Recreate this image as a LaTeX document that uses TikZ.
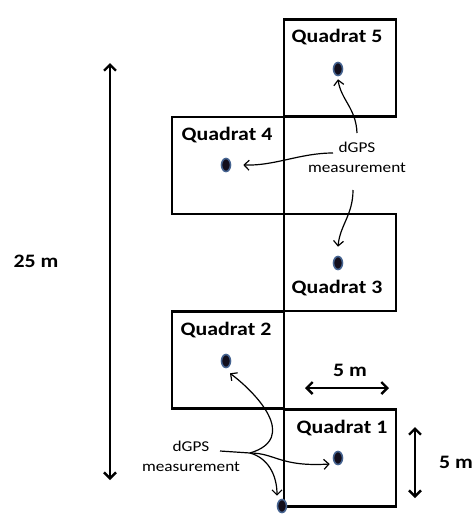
\documentclass[tikz,border=0pt]{standalone}
\usepackage{fontspec}
\setmainfont{Carlito}[FakeStretch=1.15]
\usetikzlibrary{shapes.geometric,arrows.meta}
\definecolor{white}{RGB}{255,255,255}
\definecolor{black}{RGB}{0,0,0}
\definecolor{dot_core}{RGB}{18,14,28}
\definecolor{dot_rim}{RGB}{70,100,145}

\begin{document}
\begin{tikzpicture}[x=1pt,y=-1pt,
	quad/.style={draw=black,line width=2.2pt,minimum width=112pt,minimum height=97pt,inner sep=0pt},
	gps/.style={ellipse,draw=dot_rim,fill=dot_core,line width=1.6pt,minimum width=9pt,minimum height=13pt,inner sep=0pt},
	qlabel/.style={font=\fontsize{19}{22}\selectfont\bfseries,inner sep=1pt},
	mlabel/.style={font=\fontsize{15}{20}\selectfont,align=center,inner sep=1pt},
	link/.style={black,line width=1.2pt,-{Straight Barb[length=5pt,width=10pt]}},
	dim/.style={black,line width=2.4pt,{Straight Barb[length=6pt,width=12pt]}-{Straight Barb[length=6pt,width=12pt]}}]
	\useasboundingbox (0,0) rectangle (475,523);

	% quadrats
	\foreach \n/\x/\y in {1/340/458,2/228/360,3/340/262.5,4/228/165.5,5/340/68}
		\node[quad] (q\n) at (\x,\y) {};

	\node[qlabel] (lab5) at (337,37) {Quadrat 5};
	\node[qlabel] (lab4) at (227,135) {Quadrat 4};
	\node[qlabel] (lab3) at (337,288) {Quadrat 3};
	\node[qlabel] (lab2) at (226,330) {Quadrat 2};
	\node[qlabel] (lab1) at (342,428) {Quadrat 1};

	% dGPS points
	\foreach \n/\x/\y in {0/282/506,1/338/458,2/226/361,3/338/263,4/226/165,5/338/69}
		\node[gps] (p\n) at (\x,\y) {};

	\node[mlabel] (m1) at (357,157) {dGPS\\measurement};
	\node[mlabel] (m2) at (191,456) {dGPS\\measurement};

	\draw[link] ([shift={(0,-24)}]m1.center) .. controls (356,108) and (341,100) .. ([yshift=-3pt]p5.south);
	\draw[link] ([shift={(-24,-4)}]m1.center) .. controls (300,153) and (275,166) .. ([xshift=12pt]p4.east);
	\draw[link] ([shift={(-4,33)}]m1.center) .. controls (353,215) and (340,225) .. ([yshift=9pt]p3.north);

	\coordinate (br) at (250,453);
	\draw[black,line width=1.2pt] ([shift={(29,-5)}]m2.center) -- (br);
	\draw[link] (br) .. controls (300,438) and (255,392) .. ([xshift=4pt,yshift=-5pt]p2.south);
	\draw[link] (br) .. controls (275,453) and (280,467) .. ([xshift=-3pt,yshift=-6pt]p1.west);
	\draw[link] (br) .. controls (268,458) and (277,475) .. ([xshift=-5pt,yshift=3pt]p0.north);

	% scale bars
	\coordinate (t25) at (110,63);
	\coordinate (b25) at (110,480);
	\draw[dim] (t25) -- (b25);
	\node[qlabel] (len25) at (36,261) {25 m};

	\coordinate (l5) at (305,388);
	\coordinate (r5) at (389,388);
	\draw[dim] (l5) -- (r5);
	\node[qlabel] (w5) at (350,370) {5 m};

	\coordinate (t5) at (415,427);
	\coordinate (b5) at (415,498);
	\draw[dim] (t5) -- (b5);
	\node[qlabel] (h5) at (456,462) {5 m};
\end{tikzpicture}
\end{document}
